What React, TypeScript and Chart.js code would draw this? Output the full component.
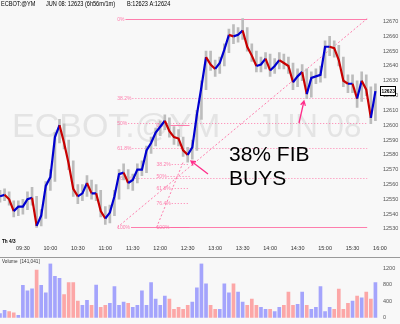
import { useEffect, useRef } from 'react';
import { Chart, registerables } from 'chart.js';
Chart.register(...registerables);

// ---------------- DATA ----------------
const times = [
  "09:05","09:10","09:15","09:20","09:25","09:30","09:35","09:40","09:45","09:50","09:55",
  "10:00","10:05","10:10","10:15","10:20","10:25","10:30","10:35","10:40","10:45","10:50","10:55",
  "11:00","11:05","11:10","11:15","11:20","11:25","11:30","11:35","11:40","11:45","11:50","11:55",
  "12:00","12:05","12:10","12:15","12:20","12:25","12:30","12:35","12:40","12:45","12:50","12:55",
  "13:00","13:05","13:10","13:15","13:20","13:25","13:30","13:35","13:40","13:45","13:50","13:55",
  "14:00","14:05","14:10","14:15","14:20","14:25","14:30","14:35","14:40","14:45","14:50","14:55",
  "15:00","15:05","15:10","15:15","15:20","15:25","15:30","15:35","15:40","15:45","15:50","15:55"
];
const closes = [
  12552,12553,12550,12542,12545,12545,12550,12551,12532,12539,12559,
  12565,12592,12600,12588,12574,12557,12552,12554,12561,12554,12554,12542,
  12537,12541,12552,12567,12568,12561,12563,12570,12570,12583,12588,12595,
  12599,12603,12596,12592,12591,12583,12580,12585,12607,12626,12646,12641,
  12638,12642,12651,12661,12660,12661,12664,12653,12647,12640,12641,12645,
  12637,12640,12644,12642,12640,12629,12633,12636,12621,12632,12633,12634,
  12653,12653,12652,12644,12630,12628,12628,12618,12630,12624,12605,12623
];
const highs = [
  12556,12557,12555,12549,12549,12550,12555,12558,12552,12543,12562,
  12570,12595,12604,12601,12590,12576,12560,12560,12566,12563,12560,12556,
  12545,12546,12556,12570,12574,12570,12567,12574,12576,12586,12592,12598,
  12603,12607,12605,12599,12597,12592,12585,12590,12610,12630,12650,12650,
  12644,12646,12655,12665,12668,12666,12672,12666,12655,12650,12646,12649,
  12648,12645,12649,12648,12646,12642,12638,12641,12638,12636,12638,12640,
  12657,12660,12657,12654,12646,12634,12634,12630,12636,12634,12626,12628
];
const lows = [
  12548,12549,12546,12538,12539,12540,12543,12546,12531,12532,12537,
  12556,12562,12588,12584,12570,12552,12547,12549,12552,12550,12549,12538,
  12533,12534,12539,12550,12563,12557,12556,12561,12566,12568,12581,12586,
  12593,12597,12592,12587,12586,12579,12575,12577,12583,12604,12624,12637,
  12633,12635,12640,12649,12655,12656,12658,12650,12643,12636,12636,12638,
  12633,12635,12638,12638,12635,12624,12626,12630,12618,12619,12628,12629,
  12632,12647,12646,12640,12626,12622,12622,12612,12616,12620,12601,12603
];
const volumes = [
  100,180,150,120,60,780,650,700,1150,780,600,
  1300,1000,950,560,850,850,400,300,420,300,790,250,
  300,350,750,300,380,350,250,300,650,300,850,450,
  300,520,450,200,250,200,300,380,720,1300,820,300,
  200,200,820,600,820,620,380,300,450,300,250,200,
  200,150,250,300,620,300,320,620,300,200,250,750,
  150,250,200,690,200,350,400,520,480,620,450,850
];
const timeTickLabels = ["09:30","10:00","10:30","11:00","11:30","12:00","12:30","13:00","13:30","14:00","14:30","15:00","15:30","16:00"];
const priceTicks = [12530,12540,12550,12560,12570,12580,12590,12600,12610,12620,12630,12640,12650,12660,12670];
const volumeTicks = [0,200,400,600,800,1000,1200];

const fibRatios = [0, 0.382, 0.5, 0.618, 0.764, 1];
const fibLabels = ["0%", "38.2%", "50%", "61.8%", "76.4%", "100%"];
const bigFib = { high: 12672, low: 12531, start: "11:13", end: "15:46", diagEnd: "15:46", diagPrice: 12672 };
const smallFib = { high: 12600, low: 12531, start: "11:56", end: "12:32", diagEnd: "12:25", diagPrice: 12575 };

const sessionStart = "09:05";
const sessionEnd = "16:00";
const priceMin = 12522.5;
const priceMax = 12680.3;
const volumeMax = 1314;

// ---------------- HELPERS ----------------
const toMin = (s: string) => { const [h, m] = s.split(':').map(Number); return h * 60 + m; };
const sans = "'Liberation Sans', Arial, sans-serif";
const BG = '#f8f8f8';
const PINK = 'rgba(255,105,160,0.85)';

// text drawn horizontally condensed (the reference screenshot is squeezed)
function squeezedText(ctx: CanvasRenderingContext2D, text: string, x: number, y: number, sx: number) {
  ctx.save();
  ctx.translate(x, y);
  ctx.scale(sx, 1);
  ctx.fillText(text, 0, 0);
  ctx.restore();
}

function drawArrow(ctx: CanvasRenderingContext2D, x1: number, y1: number, x2: number, y2: number) {
  const a = Math.atan2(y2 - y1, x2 - x1);
  const hl = 5;
  ctx.beginPath();
  ctx.moveTo(x1, y1);
  ctx.lineTo(x2, y2);
  ctx.moveTo(x2 - hl * Math.cos(a - 0.5), y2 - hl * Math.sin(a - 0.5));
  ctx.lineTo(x2, y2);
  ctx.lineTo(x2 - hl * Math.cos(a + 0.5), y2 - hl * Math.sin(a + 0.5));
  ctx.stroke();
}

const priceDecor = {
  id: 'priceDecor',
  beforeDraw(chart: any) {
    const ctx = chart.ctx;
    ctx.save();
    ctx.fillStyle = BG;
    ctx.fillRect(0, 0, chart.width, chart.height);
    ctx.restore();
  },
  beforeDatasetsDraw(chart: any) {
    const ctx: CanvasRenderingContext2D = chart.ctx;
    const xs = chart.scales.x, ys = chart.scales.y;
    ctx.save();
    // watermark
    ctx.font = `34px ${sans}`;
    ctx.fillStyle = '#e4e4e4';
    ctx.textBaseline = 'alphabetic';
    ctx.fillText('ECBOT.@YM', 12, 137);
    squeezedText(ctx, 'JUN 08', 257, 137, 0.92);
    // fibs
    ctx.font = `5px ${sans}`;
    ctx.textBaseline = 'middle';
    ctx.lineWidth = 1;
    for (const fib of [bigFib, smallFib]) {
      const x0 = xs.getPixelForValue(toMin(fib.start));
      const x1 = xs.getPixelForValue(toMin(fib.end));
      fibRatios.forEach((r, i) => {
        const p = fib.high - r * (fib.high - fib.low);
        const y = Math.round(ys.getPixelForValue(p)) + 0.5;
        ctx.fillStyle = PINK;
        ctx.fillText(fibLabels[i], x0, y);
        const tw = ctx.measureText(fibLabels[i]).width;
        ctx.strokeStyle = PINK;
        ctx.setLineDash(r === 0 || r === 1 ? [] : [1, 2]);
        ctx.beginPath();
        ctx.moveTo(x0 + tw + 1, y);
        ctx.lineTo(x1, y);
        ctx.stroke();
      });
      ctx.setLineDash([2, 2]);
      ctx.beginPath();
      ctx.moveTo(x0, ys.getPixelForValue(fib.low));
      ctx.lineTo(xs.getPixelForValue(toMin(fib.diagEnd)), ys.getPixelForValue(fib.diagPrice));
      ctx.stroke();
    }
    ctx.restore();
  },
  afterDraw(chart: any) {
    const ctx: CanvasRenderingContext2D = chart.ctx;
    const ys = chart.scales.y;
    ctx.save();
    // header
    ctx.fillStyle = '#000';
    ctx.font = `7px ${sans}`;
    ctx.textBaseline = 'top';
    squeezedText(ctx, 'ECBOT:@YM', 1, 1, 0.8);
    squeezedText(ctx, 'JUN 08: 12623 (6h56m/1m)', 46, 1, 0.8);
    squeezedText(ctx, 'B:12623 A:12624', 127, 1, 0.8);
    // annotation text
    ctx.font = `21px ${sans}`;
    ctx.textBaseline = 'alphabetic';
    ctx.fillText('38% FIB', 229, 161);
    ctx.fillText('BUYS', 229, 185);
    // arrows
    ctx.strokeStyle = '#ff2d8a';
    ctx.lineWidth = 1.3;
    drawArrow(ctx, 208, 174, 191, 161);
    drawArrow(ctx, 299, 123, 304, 101);
    // date marker
    ctx.fillStyle = '#000';
    ctx.font = `bold 5.5px ${sans}`;
    ctx.textBaseline = 'middle';
    squeezedText(ctx, 'Th 4/3', 2, 241, 0.85);
    // last price badge
    const last = closes[closes.length - 1];
    const y = Math.round(ys.getPixelForValue(last));
    ctx.fillStyle = '#fff';
    ctx.fillRect(380.5, y - 4.5, 15, 9);
    ctx.strokeStyle = '#000';
    ctx.lineWidth = 1;
    ctx.strokeRect(380.5, y - 4.5, 15, 9);
    ctx.fillStyle = '#000';
    ctx.font = `bold 6px ${sans}`;
    squeezedText(ctx, String(last), 381.5, y, 0.8);
    ctx.restore();
  }
};

const volumeDecor = {
  id: 'volumeDecor',
  beforeDraw(chart: any) {
    const ctx = chart.ctx;
    ctx.save();
    ctx.fillStyle = BG;
    ctx.fillRect(0, 0, chart.width, chart.height);
    ctx.strokeStyle = '#9a9a9a';
    ctx.lineWidth = 1;
    ctx.beginPath();
    ctx.moveTo(0, 0.5);
    ctx.lineTo(chart.width, 0.5);
    ctx.stroke();
    ctx.restore();
  },
  afterDraw(chart: any) {
    const ctx = chart.ctx;
    ctx.save();
    ctx.fillStyle = '#333';
    ctx.font = `5.5px ${sans}`;
    ctx.textBaseline = 'middle';
    squeezedText(ctx, 'Volume  [141,041]', 2, 4.5, 0.85);
    ctx.restore();
  }
};

export default function App() {
  const priceRef = useRef<HTMLCanvasElement>(null);
  const volRef = useRef<HTMLCanvasElement>(null);

  useEffect(() => {
    const tMin = times.map(toMin);
    const tickMins = timeTickLabels.map(toMin);
    const xMin = toMin(sessionStart), xMax = toMin(sessionEnd);

    const price = new Chart(priceRef.current!, {
      type: 'bar',
      data: {
        datasets: [
          {
            type: 'line',
            data: tMin.map((t, i) => ({ x: t, y: closes[i] })),
            borderWidth: 2.2,
            pointRadius: 0,
            tension: 0,
            order: 0,
            segment: {
              borderColor: (c: any) => (c.p1.parsed.y >= c.p0.parsed.y ? '#0000d0' : '#c80000'),
            },
          } as any,
          {
            type: 'bar',
            data: tMin.map((t, i) => ({ x: t, y: [lows[i], highs[i]] })),
            backgroundColor: '#bcbcbc',
            barThickness: 2,
            order: 1,
          } as any,
        ],
      },
      options: {
        animation: false,
        responsive: false,
        maintainAspectRatio: false,
        layout: { padding: 0 },
        plugins: { legend: { display: false }, tooltip: { enabled: false } },
        scales: {
          x: {
            type: 'linear', min: xMin, max: xMax, offset: false,
            grid: { display: false, drawTicks: false }, border: { display: false },
            afterBuildTicks: (s: any) => { s.ticks = tickMins.map((v) => ({ value: v })); },
            afterFit: (s: any) => { s.height = 17; },
            ticks: {
              autoSkip: false, maxRotation: 0, padding: 5, color: '#333',
              font: { family: sans, size: 5.5 },
              callback: (_v: any, i: number) => timeTickLabels[i],
            },
          },
          y: {
            type: 'linear', position: 'right', min: priceMin, max: priceMax,
            grid: { display: false, drawTicks: false }, border: { display: false },
            afterBuildTicks: (s: any) => { s.ticks = priceTicks.map((v) => ({ value: v })); },
            afterFit: (s: any) => { s.width = 20; },
            ticks: { padding: 3, color: '#555', font: { family: sans, size: 5.5 }, callback: (v: any) => String(v) },
          },
        },
      } as any,
      plugins: [priceDecor],
    });

    const vol = new Chart(volRef.current!, {
      type: 'bar',
      data: {
        datasets: [
          {
            data: tMin.map((t, i) => ({ x: t, y: volumes[i] })),
            backgroundColor: closes.map((c, i) =>
              i === 0 || c >= closes[i - 1] ? 'rgba(95,95,255,0.55)' : 'rgba(255,85,85,0.5)'),
            barThickness: 3,
          },
        ],
      },
      options: {
        animation: false,
        responsive: false,
        maintainAspectRatio: false,
        layout: { padding: { bottom: 1 } },
        plugins: { legend: { display: false }, tooltip: { enabled: false } },
        scales: {
          x: { type: 'linear', min: xMin, max: xMax, offset: false, display: false },
          y: {
            type: 'linear', position: 'right', min: 0, max: volumeMax,
            grid: { display: false, drawTicks: false }, border: { display: false },
            afterBuildTicks: (s: any) => { s.ticks = volumeTicks.map((v) => ({ value: v })); },
            afterFit: (s: any) => { s.width = 20; },
            ticks: { padding: 3, color: '#555', font: { family: sans, size: 5.5 }, callback: (v: any) => String(v) },
          },
        },
      } as any,
      plugins: [volumeDecor],
    });

    return () => { price.destroy(); vol.destroy(); };
  }, []);

  return (
    <div style={{ position: 'absolute', left: 0, top: 0, width: 400, height: 324, background: BG }}>
      <canvas ref={priceRef} width={400} height={257} style={{ display: 'block' }} />
      <canvas ref={volRef} width={400} height={67} style={{ display: 'block' }} />
    </div>
  );
}
